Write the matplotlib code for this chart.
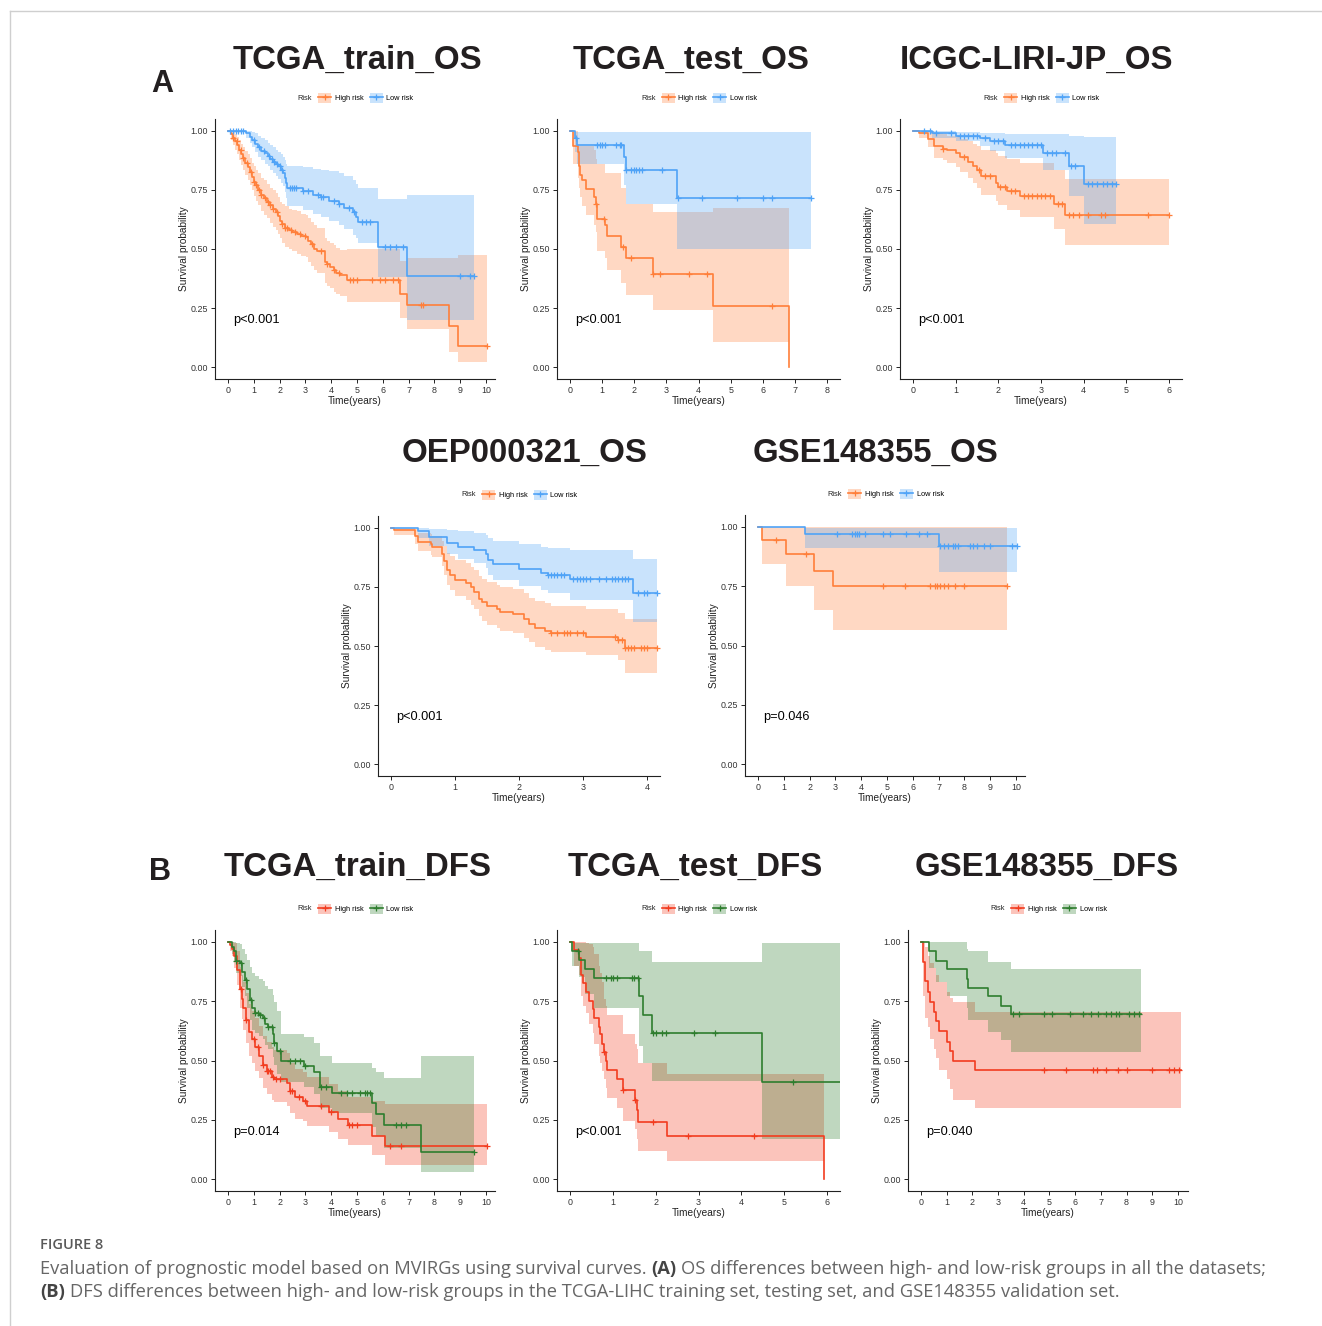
import numpy as np
import matplotlib
matplotlib.use("Agg")
import matplotlib.pyplot as plt
from matplotlib.lines import Line2D
from matplotlib.patches import Patch

plt.rcParams['font.family'] = ['Liberation Sans', 'DejaVu Sans']

ORANGE, BLUE = '#FF7F3A', '#4FA3F7'
RED, GREEN = '#F23C1F', '#2E7D2E'

# ---- TCGA_train_OS ----
p1h_t = [0, 0.13, 0.2, 0.28, 0.36, 0.44, 0.52, 0.6, 0.68, 0.76, 0.84, 0.92, 1.0, 1.08, 1.18, 1.28, 1.38, 1.5, 1.62, 1.75,
         1.85, 1.93, 2.0, 2.1, 2.2, 2.35, 2.5, 2.66, 2.85, 3.04, 3.12, 3.22, 3.32, 3.45, 3.76, 3.85, 3.97, 4.1, 4.2, 4.35,
         4.6, 6.67, 6.93, 8.55, 8.9]
p1h_s = [1, 0.985, 0.97, 0.955, 0.94, 0.92, 0.90, 0.885, 0.865, 0.845, 0.825, 0.805, 0.785, 0.77, 0.75, 0.73, 0.715, 0.70,
         0.685, 0.67, 0.655, 0.64, 0.62, 0.605, 0.59, 0.58, 0.57, 0.565, 0.555, 0.55, 0.535, 0.52, 0.50, 0.49, 0.445, 0.435,
         0.425, 0.41, 0.40, 0.39, 0.37, 0.31, 0.265, 0.175, 0.088]
p1h_hi = [1, 1.0, 0.995, 0.985, 0.975, 0.96, 0.945, 0.93, 0.915, 0.90, 0.885, 0.865, 0.85, 0.835, 0.82, 0.80, 0.79, 0.775,
          0.76, 0.75, 0.735, 0.72, 0.70, 0.69, 0.68, 0.67, 0.665, 0.66, 0.65, 0.645, 0.63, 0.615, 0.60, 0.59, 0.545, 0.535,
          0.525, 0.515, 0.505, 0.495, 0.50, 0.45, 0.46, 0.46, 0.475]
p1h_lo = [1, 0.96, 0.94, 0.92, 0.90, 0.875, 0.855, 0.835, 0.815, 0.79, 0.77, 0.75, 0.725, 0.705, 0.685, 0.66, 0.645, 0.63,
          0.61, 0.595, 0.58, 0.565, 0.545, 0.525, 0.51, 0.50, 0.49, 0.48, 0.47, 0.465, 0.445, 0.43, 0.41, 0.40, 0.355,
          0.345, 0.335, 0.32, 0.31, 0.30, 0.275, 0.21, 0.16, 0.065, 0.02]
p1h_end = 10.05
p1h_cens = [0.2, 0.35, 0.5, 0.6, 0.75, 0.9, 1.0, 1.1, 1.2, 1.3, 1.45, 1.55, 1.65, 1.75, 1.9, 2.1, 2.2, 2.3, 2.45, 2.6, 2.8,
            3.0, 3.25, 3.6, 3.85, 4.1, 4.3, 4.75, 4.85, 5.0, 5.6, 5.9, 6.1, 6.4, 6.6, 7.5, 7.55, 10.05]

p1l_t = [0, 0.72, 0.85, 0.95, 1.05, 1.15, 1.3, 1.45, 1.55, 1.65, 1.75, 1.85, 1.95, 2.05, 2.14, 2.2, 2.25, 2.3, 2.9, 3.3,
         3.6, 3.9, 4.3, 4.5, 4.85, 4.95, 5.05, 5.82, 6.93]
p1l_s = [1, 0.99, 0.975, 0.96, 0.945, 0.93, 0.915, 0.905, 0.895, 0.88, 0.87, 0.86, 0.85, 0.835, 0.82, 0.80, 0.78, 0.76,
         0.745, 0.73, 0.72, 0.705, 0.69, 0.675, 0.655, 0.635, 0.615, 0.51, 0.385]
p1l_hi = [1, 1.0, 1.0, 0.995, 0.99, 0.98, 0.97, 0.96, 0.95, 0.94, 0.93, 0.92, 0.91, 0.90, 0.89, 0.875, 0.86, 0.85, 0.845,
          0.84, 0.835, 0.83, 0.82, 0.81, 0.79, 0.775, 0.76, 0.71, 0.73]
p1l_lo = [1, 0.97, 0.95, 0.93, 0.91, 0.89, 0.875, 0.86, 0.85, 0.835, 0.82, 0.81, 0.795, 0.78, 0.765, 0.74, 0.715, 0.68,
          0.665, 0.65, 0.635, 0.62, 0.60, 0.585, 0.56, 0.545, 0.525, 0.38, 0.20]
p1l_end = 9.55
p1l_cens = [0.1, 0.2, 0.3, 0.4, 0.5, 0.6, 1.0, 1.2, 1.4, 1.6, 1.7, 1.8, 1.9, 2.0, 2.1, 2.4, 2.5, 2.55, 2.65, 2.9, 3.1,
            3.5, 3.6, 3.7, 4.1, 4.3, 4.7, 4.9, 5.2, 5.35, 5.5, 6.1, 6.3, 6.5, 6.8, 9.0, 9.4, 9.55]

# ---- TCGA_test_OS ----
p2h_t = [0, 0.1, 0.25, 0.28, 0.32, 0.38, 0.5, 0.75, 0.8, 0.85, 1.1, 1.15, 1.6, 1.75, 2.57, 4.45, 6.8]
p2h_s = [1, 0.935, 0.91, 0.85, 0.815, 0.79, 0.755, 0.72, 0.69, 0.625, 0.60, 0.555, 0.51, 0.46, 0.395, 0.26, 0.0]
p2h_hi = [1, 1.0, 0.935, 0.935, 0.935, 0.935, 0.935, 0.92, 0.88, 0.86, 0.82, 0.82, 0.76, 0.69, 0.655, 0.675, 0.0]
p2h_lo = [1, 0.86, 0.80, 0.76, 0.72, 0.68, 0.645, 0.60, 0.57, 0.49, 0.46, 0.41, 0.355, 0.305, 0.24, 0.105, 0.0]
p2h_end = 6.8
p2h_cens = [0.8, 1.05, 1.65, 1.9, 2.6, 2.8, 3.7, 4.25, 6.3]

p2l_t = [0, 0.15, 0.22, 1.68, 1.75, 3.32]
p2l_s = [1, 0.97, 0.94, 0.89, 0.835, 0.717]
p2l_hi = [1, 0.995, 0.995, 0.995, 0.995, 0.995]
p2l_lo = [1, 0.91, 0.86, 0.77, 0.69, 0.50]
p2l_end = 7.5
p2l_cens = [0.2, 0.85, 0.95, 1.0, 1.1, 1.45, 1.55, 1.6, 1.75, 1.9, 2.0, 2.05, 2.15, 2.25, 2.85, 3.35, 4.1, 5.2, 6.0,
            6.3, 7.5]

# ---- ICGC-LIRI-JP_OS ----
p3h_t = [0, 0.15, 0.35, 0.5, 0.7, 0.8, 1.0, 1.1, 1.3, 1.4, 1.5, 1.6, 1.95, 2.0, 2.2, 2.5, 3.3, 3.57]
p3h_s = [1, 0.99, 0.965, 0.935, 0.925, 0.92, 0.905, 0.89, 0.87, 0.85, 0.835, 0.807, 0.78, 0.762, 0.745, 0.724, 0.692,
         0.643]
p3h_hi = [1, 1.0, 1.0, 0.99, 0.985, 0.98, 0.975, 0.965, 0.955, 0.945, 0.935, 0.92, 0.905, 0.895, 0.88, 0.865, 0.835,
          0.795]
p3h_lo = [1, 0.97, 0.93, 0.885, 0.875, 0.865, 0.845, 0.825, 0.80, 0.78, 0.76, 0.73, 0.705, 0.685, 0.665, 0.635, 0.585,
          0.515]
p3h_end = 6.0
p3h_cens = [0.7, 1.2, 1.55, 1.7, 1.8, 2.05, 2.15, 2.3, 2.4, 2.6, 2.7, 2.8, 2.9, 3.0, 3.1, 3.2, 3.4, 3.5, 3.65, 3.75,
            3.9, 4.1, 4.4, 4.5, 5.5, 6.0]

p3l_t = [0, 0.45, 1.0, 1.57, 1.8, 2.15, 3.05, 3.65, 4.0]
p3l_s = [1, 0.99, 0.98, 0.97, 0.955, 0.94, 0.905, 0.85, 0.775]
p3l_hi = [1, 1.0, 0.995, 0.99, 0.99, 0.985, 0.985, 0.98, 0.975]
p3l_lo = [1, 0.97, 0.955, 0.935, 0.915, 0.885, 0.835, 0.725, 0.605]
p3l_end = 4.75
p3l_cens = [0.25, 0.4, 0.55, 0.9, 1.1, 1.2, 1.3, 1.4, 1.5, 1.7, 1.9, 2.0, 2.1, 2.3, 2.4, 2.5, 2.6, 2.7, 2.8, 2.9, 3.0,
            3.15, 3.25, 3.35, 3.55, 3.7, 3.8, 4.1, 4.2, 4.3, 4.45, 4.55, 4.65, 4.75]

# ---- OEP000321_OS ----
p4h_t = [0, 0.05, 0.38, 0.42, 0.62, 0.65, 0.8, 0.83, 0.87, 0.92, 1.0, 1.17, 1.25, 1.3, 1.37, 1.42, 1.5, 1.65, 1.7, 1.9,
         2.08, 2.15, 2.25, 2.4, 2.5, 3.05, 3.55, 3.65]
p4h_s = [1, 0.99, 0.965, 0.94, 0.93, 0.92, 0.89, 0.86, 0.82, 0.80, 0.78, 0.765, 0.75, 0.73, 0.70, 0.685, 0.67, 0.655,
         0.645, 0.635, 0.615, 0.595, 0.575, 0.565, 0.555, 0.54, 0.525, 0.49]
p4h_hi = [1, 1.0, 0.995, 0.98, 0.975, 0.965, 0.945, 0.925, 0.895, 0.88, 0.865, 0.85, 0.835, 0.82, 0.795, 0.785, 0.77,
          0.76, 0.75, 0.74, 0.725, 0.705, 0.69, 0.68, 0.67, 0.655, 0.64, 0.615]
p4h_lo = [1, 0.97, 0.93, 0.90, 0.885, 0.875, 0.84, 0.80, 0.76, 0.735, 0.71, 0.695, 0.675, 0.655, 0.625, 0.605, 0.59,
          0.575, 0.565, 0.555, 0.535, 0.515, 0.495, 0.485, 0.475, 0.46, 0.44, 0.385]
p4h_end = 4.15
p4h_cens = [2.5, 2.6, 2.7, 2.75, 2.8, 2.9, 3.0, 3.5, 3.55, 3.6, 3.65, 3.7, 3.75, 3.8, 3.9, 3.95, 4.0, 4.15]

p4l_t = [0, 0.42, 0.6, 0.88, 1.05, 1.3, 1.48, 1.52, 1.6, 2.0, 2.35, 2.45, 2.8, 3.78]
p4l_s = [1, 0.985, 0.96, 0.935, 0.92, 0.905, 0.89, 0.865, 0.845, 0.825, 0.81, 0.80, 0.785, 0.725]
p4l_hi = [1, 1.0, 0.995, 0.99, 0.985, 0.98, 0.97, 0.955, 0.945, 0.93, 0.92, 0.915, 0.905, 0.87]
p4l_lo = [1, 0.955, 0.925, 0.89, 0.87, 0.85, 0.83, 0.80, 0.78, 0.755, 0.735, 0.725, 0.695, 0.60]
p4l_end = 4.15
p4l_cens = [2.45, 2.5, 2.55, 2.6, 2.65, 2.7, 2.85, 2.9, 2.95, 3.0, 3.05, 3.1, 3.25, 3.35, 3.45, 3.5, 3.55, 3.6, 3.65,
            3.7, 3.85, 3.95, 4.0, 4.15]

# ---- GSE148355_OS ----
p5h_t = [0, 0.15, 1.08, 2.18, 2.92]
p5h_s = [1, 0.945, 0.885, 0.815, 0.75]
p5h_hi = [1, 0.998, 0.998, 0.998, 0.998]
p5h_lo = [1, 0.845, 0.75, 0.65, 0.565]
p5h_end = 9.65
p5h_cens = [0.7, 1.85, 4.85, 5.7, 6.65, 6.85, 6.95, 7.05, 7.2, 7.35, 7.65, 8.0, 9.65]

p5l_t = [0, 1.82, 7.0]
p5l_s = [1, 0.97, 0.92]
p5l_hi = [1, 0.995, 0.995]
p5l_lo = [1, 0.91, 0.81]
p5l_end = 10.05
p5l_cens = [3.05, 3.65, 3.75, 3.85, 3.9, 4.15, 4.85, 5.1, 5.75, 6.25, 6.55, 7.05, 7.2, 7.35, 7.55, 7.65, 7.75, 8.2,
            8.35, 8.5, 8.75, 9.0, 9.85, 10.05]

# ---- TCGA_train_DFS ----
p6h_t = [0, 0.1, 0.15, 0.25, 0.35, 0.45, 0.55, 0.6, 0.7, 0.8, 0.95, 1.05, 1.2, 1.35, 1.5, 1.7, 1.8, 2.3, 2.4, 2.6, 2.9,
         3.05, 3.9, 4.25, 4.65, 5.6, 6.1]
p6h_s = [1, 0.985, 0.97, 0.94, 0.88, 0.80, 0.76, 0.72, 0.67, 0.62, 0.59, 0.555, 0.52, 0.48, 0.455, 0.43, 0.42, 0.405,
         0.37, 0.345, 0.33, 0.31, 0.285, 0.255, 0.23, 0.18, 0.14]
p6h_hi = [1, 1.0, 1.0, 0.995, 0.96, 0.895, 0.86, 0.83, 0.785, 0.74, 0.71, 0.68, 0.645, 0.605, 0.58, 0.555, 0.545, 0.53,
          0.49, 0.465, 0.45, 0.43, 0.40, 0.37, 0.345, 0.33, 0.315]
p6h_lo = [1, 0.96, 0.94, 0.89, 0.82, 0.72, 0.675, 0.63, 0.575, 0.52, 0.49, 0.455, 0.425, 0.385, 0.36, 0.335, 0.325,
          0.31, 0.28, 0.255, 0.245, 0.225, 0.20, 0.17, 0.145, 0.10, 0.06]
p6h_end = 10.05
p6h_cens = [0.5, 0.7, 1.0, 1.15, 1.35, 1.5, 1.55, 1.65, 1.75, 1.85, 2.0, 2.4, 2.5, 2.75, 3.0, 3.6, 4.0, 4.7, 4.8, 5.0,
            6.3, 6.7, 10.05]

p6l_t = [0, 0.15, 0.25, 0.3, 0.45, 0.55, 0.65, 0.75, 0.85, 0.95, 1.05, 1.2, 1.35, 1.45, 1.55, 1.75, 1.8, 1.9, 2.05,
         2.95, 3.35, 3.55, 4.05, 5.6, 5.75, 6.05, 7.5]
p6l_s = [1, 0.98, 0.96, 0.92, 0.91, 0.875, 0.84, 0.80, 0.755, 0.72, 0.70, 0.69, 0.68, 0.655, 0.64, 0.61, 0.575, 0.54,
         0.50, 0.475, 0.45, 0.39, 0.365, 0.32, 0.275, 0.23, 0.115]
p6l_hi = [1, 1.0, 1.0, 0.995, 0.99, 0.97, 0.95, 0.925, 0.895, 0.87, 0.855, 0.845, 0.835, 0.815, 0.80, 0.775, 0.745,
          0.71, 0.61, 0.60, 0.575, 0.52, 0.49, 0.47, 0.45, 0.425, 0.52]
p6l_lo = [1, 0.95, 0.92, 0.87, 0.855, 0.81, 0.77, 0.72, 0.67, 0.63, 0.615, 0.605, 0.59, 0.565, 0.55, 0.515, 0.48,
          0.445, 0.41, 0.39, 0.36, 0.30, 0.28, 0.22, 0.18, 0.13, 0.03]
p6l_end = 9.55
p6l_cens = [0.3, 0.5, 0.7, 0.9, 1.05, 1.15, 1.25, 1.4, 1.55, 1.7, 1.8, 2.0, 2.4, 2.6, 2.8, 3.0, 3.6, 3.8, 4.4, 4.6, 4.8,
            5.1, 5.3, 5.4, 5.5, 6.5, 6.7, 6.9, 9.55]

# ---- TCGA_test_DFS ----
p7h_t = [0, 0.1, 0.22, 0.25, 0.3, 0.38, 0.45, 0.55, 0.57, 0.67, 0.7, 0.75, 0.8, 0.85, 0.87, 1.1, 1.25, 1.52, 1.57, 1.6,
         2.27, 5.92]
p7h_s = [1, 0.965, 0.93, 0.86, 0.825, 0.79, 0.75, 0.715, 0.68, 0.64, 0.61, 0.57, 0.535, 0.50, 0.46, 0.42, 0.375, 0.335,
         0.29, 0.24, 0.18, 0.0]
p7h_hi = [1, 1.0, 1.0, 1.0, 1.0, 0.995, 0.99, 0.98, 0.95, 0.90, 0.87, 0.83, 0.76, 0.73, 0.69, 0.69, 0.61, 0.57, 0.55,
          0.49, 0.445, 0.0]
p7h_lo = [1, 0.90, 0.86, 0.77, 0.73, 0.70, 0.655, 0.615, 0.57, 0.52, 0.49, 0.455, 0.42, 0.385, 0.34, 0.30, 0.245, 0.21,
          0.17, 0.12, 0.075, 0.0]
p7h_end = 5.92
p7h_cens = [0.8, 1.25, 1.52, 1.95, 2.75, 4.3]

p7l_t = [0, 0.05, 0.22, 0.35, 0.57, 1.62, 1.7, 1.92, 4.47]
p7l_s = [1, 0.96, 0.925, 0.885, 0.847, 0.77, 0.69, 0.615, 0.41]
p7l_hi = [1, 0.995, 0.995, 0.995, 0.995, 0.96, 0.96, 0.915, 0.995]
p7l_lo = [1, 0.90, 0.85, 0.78, 0.72, 0.56, 0.49, 0.415, 0.17]
p7l_end = 6.3
p7l_cens = [0.2, 0.85, 0.95, 1.0, 1.1, 1.45, 1.5, 1.6, 1.95, 2.0, 2.15, 2.25, 2.9, 3.38, 5.2]

# ---- GSE148355_DFS ----
p8h_t = [0, 0.1, 0.17, 0.28, 0.37, 0.5, 0.6, 0.7, 1.0, 1.15, 1.25, 2.1]
p8h_s = [1, 0.915, 0.835, 0.79, 0.745, 0.705, 0.665, 0.625, 0.58, 0.54, 0.50, 0.46]
p8h_hi = [1, 1.0, 0.98, 0.94, 0.91, 0.89, 0.86, 0.83, 0.79, 0.765, 0.745, 0.705]
p8h_lo = [1, 0.77, 0.68, 0.64, 0.59, 0.55, 0.51, 0.46, 0.42, 0.38, 0.335, 0.30]
p8h_end = 10.1
p8h_cens = [4.8, 5.65, 6.7, 6.85, 7.2, 7.65, 8.0, 9.0, 9.65, 9.85, 10.05]

p8l_t = [0, 0.3, 0.6, 1.0, 1.78, 1.85, 2.6, 3.1, 3.5]
p8l_s = [1, 0.96, 0.92, 0.885, 0.845, 0.805, 0.77, 0.73, 0.695]
p8l_hi = [1, 0.998, 0.998, 0.998, 0.97, 0.96, 0.915, 0.915, 0.885]
p8l_lo = [1, 0.89, 0.83, 0.77, 0.72, 0.67, 0.62, 0.585, 0.535]
p8l_end = 8.55
p8l_cens = [3.6, 3.8, 4.8, 5.1, 5.8, 6.3, 6.6, 6.9, 7.2, 7.4, 7.6, 7.7, 8.1, 8.3, 8.5]

titles = ['TCGA_train_OS', 'TCGA_test_OS', 'ICGC-LIRI-JP_OS', 'OEP000321_OS', 'GSE148355_OS',
          'TCGA_train_DFS', 'TCGA_test_DFS', 'GSE148355_DFS']
pvals = ['p<0.001', 'p<0.001', 'p<0.001', 'p<0.001', 'p=0.046', 'p=0.014', 'p<0.001', 'p=0.040']
xmax_ticks = [10, 8, 6, 4, 10, 10, 6, 10]

W, H = 1322, 1326
fig = plt.figure(figsize=(W / 100, H / 100), dpi=100)


def fx(x):
    return x / W


def fy(y):
    return 1 - y / H


def km(ax, t, s, lo, hi, end, cens, color):
    tt = list(t) + [end]
    ax.fill_between(tt, list(lo) + [lo[-1]], list(hi) + [hi[-1]], step='post',
                    color=color, alpha=0.3, lw=0)
    ax.step(tt, list(s) + [s[-1]], where='post', color=color, lw=1.2)
    idx = np.searchsorted(t, cens, side='right') - 1
    ax.plot(cens, np.array(s)[idx], ls='none', marker='+', color=color, ms=4.5, mew=0.9)


# pixel layout of each panel: left, top, right, bottom ; x limits ; title centre
layout = [
    ((215, 119, 495, 379), (-0.5, 10.35), (357, 60)),
    ((557, 119, 840, 379), (-0.4, 8.4), (691, 60)),
    ((900, 119, 1182, 379), (-0.3, 6.3), (1037, 60)),
    ((378, 516, 660, 776), (-0.2, 4.2), (525, 453)),
    ((745, 515, 1025, 776), (-0.5, 10.35), (876, 453)),
    ((215, 930, 495, 1191), (-0.5, 10.35), (358, 867)),
    ((557, 930, 840, 1191), (-0.3, 6.3), (695, 867)),
    ((908, 930, 1188, 1191), (-0.5, 10.39), (1047, 867)),
]
curves = [
    [(p1h_t, p1h_s, p1h_lo, p1h_hi, p1h_end, p1h_cens), (p1l_t, p1l_s, p1l_lo, p1l_hi, p1l_end, p1l_cens)],
    [(p2h_t, p2h_s, p2h_lo, p2h_hi, p2h_end, p2h_cens), (p2l_t, p2l_s, p2l_lo, p2l_hi, p2l_end, p2l_cens)],
    [(p3h_t, p3h_s, p3h_lo, p3h_hi, p3h_end, p3h_cens), (p3l_t, p3l_s, p3l_lo, p3l_hi, p3l_end, p3l_cens)],
    [(p4h_t, p4h_s, p4h_lo, p4h_hi, p4h_end, p4h_cens), (p4l_t, p4l_s, p4l_lo, p4l_hi, p4l_end, p4l_cens)],
    [(p5h_t, p5h_s, p5h_lo, p5h_hi, p5h_end, p5h_cens), (p5l_t, p5l_s, p5l_lo, p5l_hi, p5l_end, p5l_cens)],
    [(p6h_t, p6h_s, p6h_lo, p6h_hi, p6h_end, p6h_cens), (p6l_t, p6l_s, p6l_lo, p6l_hi, p6l_end, p6l_cens)],
    [(p7h_t, p7h_s, p7h_lo, p7h_hi, p7h_end, p7h_cens), (p7l_t, p7l_s, p7l_lo, p7l_hi, p7l_end, p7l_cens)],
    [(p8h_t, p8h_s, p8h_lo, p8h_hi, p8h_end, p8h_cens), (p8l_t, p8l_s, p8l_lo, p8l_hi, p8l_end, p8l_cens)],
]

for i, ((l, t, r, b), xl, (tx, ty)) in enumerate(layout):
    cols = (ORANGE, BLUE) if i < 5 else (RED, GREEN)
    ax = fig.add_axes([fx(l), fy(b), (r - l) / W, (b - t) / H])
    for (ct, cs, clo, chi, cend, ccens), col in zip(curves[i], cols):
        km(ax, ct, cs, clo, chi, cend, ccens, col)
    ax.set_xlim(*xl)
    ax.set_ylim(-0.05, 1.05)
    ax.set_xticks(range(0, xmax_ticks[i] + 1))
    ax.set_yticks([0, 0.25, 0.5, 0.75, 1.0])
    ax.set_yticklabels(['0.00', '0.25', '0.50', '0.75', '1.00'])
    for sp in ('top', 'right'):
        ax.spines[sp].set_visible(False)
    for sp in ('left', 'bottom'):
        ax.spines[sp].set_linewidth(0.8)
        ax.spines[sp].set_color('#222222')
    ax.tick_params(length=3, width=0.7, pad=2, labelsize=6.4, colors='#222222', labelcolor='#333333')
    ax.set_xlabel('Time(years)', fontsize=7.3, labelpad=1, color='#222222')
    ax.set_ylabel('Survival probability', fontsize=7.3, labelpad=1, color='#222222')
    xp = 0.2 if xl[1] > 9 else (0.15 if xl[1] > 8 else (0.12 if xl[1] > 6 else 0.09))
    ax.text(xp, 0.2, pvals[i], fontsize=9.2, ha='left', va='center')

    fig.text(fx(tx), fy(ty), titles[i], fontsize=23.8, fontweight='bold', color='#231F20',
             ha='center', va='center')

    # legend above the panel
    cx = (l + r) / 2
    ly = t - 21
    fig.text(fx(cx - 43), fy(ly), 'Risk', fontsize=5.3, ha='right', va='center', color='#222222')
    hnd = [(Patch(facecolor=c, alpha=0.3, lw=0),
            Line2D([], [], color=c, lw=1.2, marker='+', ms=4, mew=0.9)) for c in cols]
    ax.legend(hnd, ['High risk', 'Low risk'], loc='center left', bbox_to_anchor=(fx(cx - 37), fy(ly)),
              bbox_transform=fig.transFigure, ncol=2, frameon=False, fontsize=5.3, handlelength=1.8,
              handleheight=1.8, handletextpad=0.5, columnspacing=0.8, borderpad=0, borderaxespad=0)

fig.text(fx(162), fy(84), 'A', fontsize=22, fontweight='bold', color='#231F20', ha='center', va='center')
fig.text(fx(160), fy(872), 'B', fontsize=22, fontweight='bold', color='#231F20', ha='center', va='center')

# frame of the figure page
fig.add_artist(Line2D([fx(10), 1], [fy(11), fy(11)], transform=fig.transFigure, color='#cfcfcf', lw=1))
fig.add_artist(Line2D([fx(10), fx(10)], [0, fy(11)], transform=fig.transFigure, color='#cfcfcf', lw=1))

# caption
cap_font = ['Open Sans', 'DejaVu Sans']
fig.text(fx(40), fy(1245), 'FIGURE 8', fontsize=10.5, fontweight='semibold', color='#595959',
         family=cap_font, ha='left', va='center')

renderer = fig.canvas.get_renderer()


def rich_line(x, y, parts, size):
    probe1 = fig.text(0, 0, 'x x', fontsize=size, family=cap_font)
    probe2 = fig.text(0, 0, 'xx', fontsize=size, family=cap_font)
    gap = probe1.get_window_extent(renderer).width - probe2.get_window_extent(renderer).width
    probe1.remove()
    probe2.remove()
    for k, (txt, bold) in enumerate(parts):
        tt = fig.text(fx(x), fy(y), txt, fontsize=size, family=cap_font, ha='left', va='center',
                      fontweight='bold' if bold else 'normal', color='#444444' if bold else '#666666')
        x += tt.get_window_extent(renderer).width + gap


cap1 = [('Evaluation of prognostic model based on MVIRGs using survival curves.', False), ('(A)', True),
        ('OS differences between high- and low-risk groups in all the datasets;', False)]
cap2 = [('(B)', True),
        ('DFS differences between high- and low-risk groups in the TCGA-LIHC training set, testing set, and '
         'GSE148355 validation set.', False)]
rich_line(40, 1269, cap1, 13.2)
rich_line(40, 1292, cap2, 13.2)

fig.savefig('out.png', dpi=100)
